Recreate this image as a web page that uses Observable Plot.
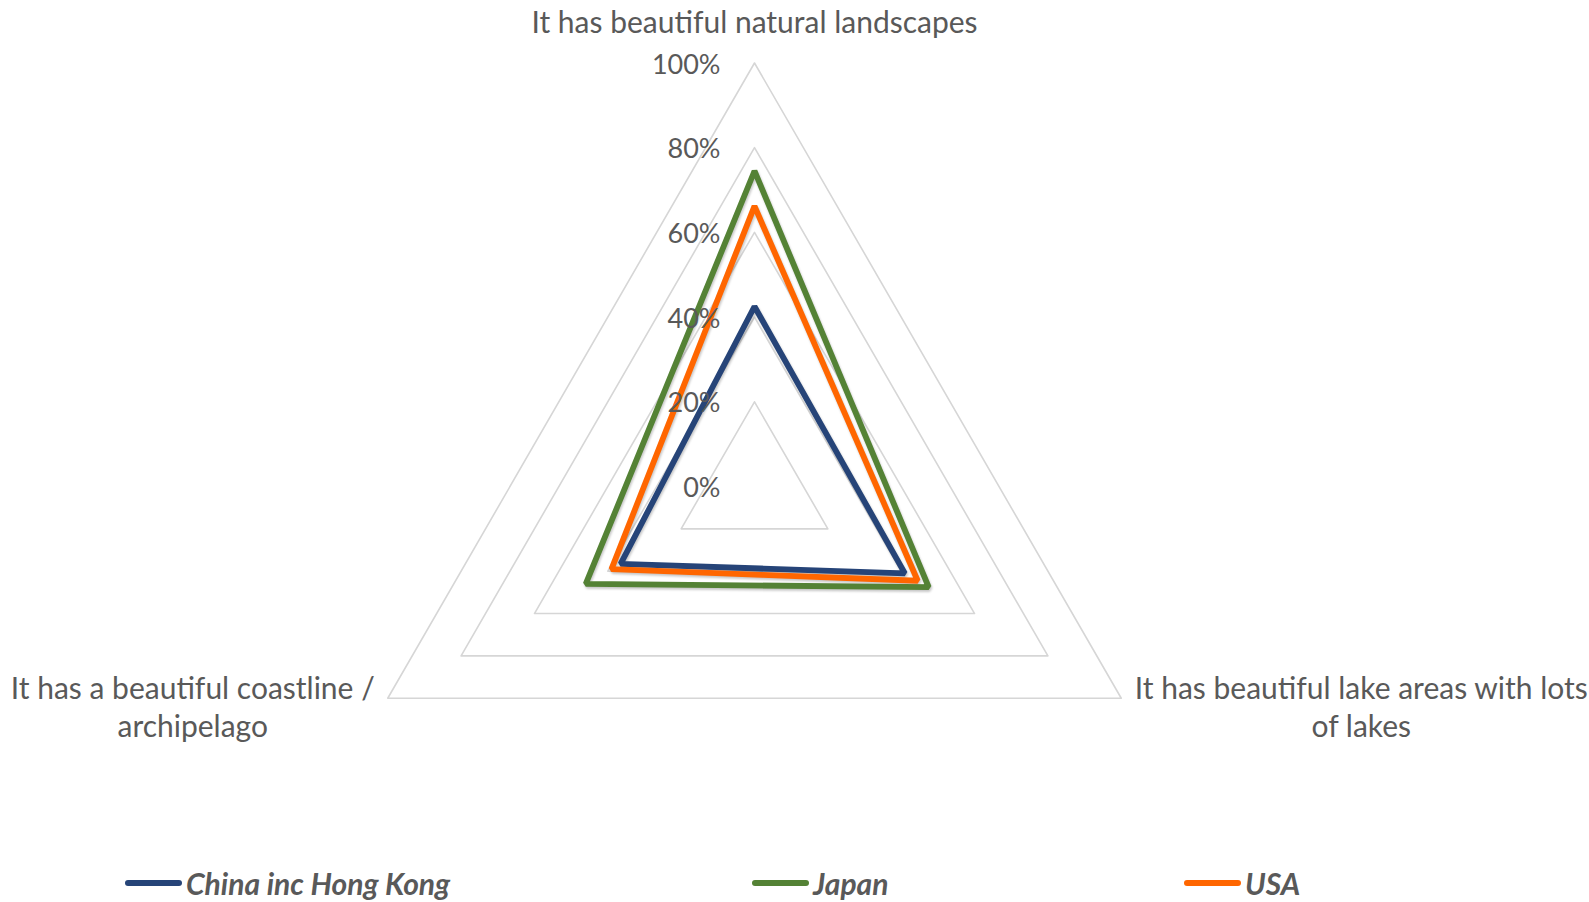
<!DOCTYPE html>
<html>
<head>
<meta charset="utf-8">
<script src="https://cdn.jsdelivr.net/npm/d3@7"></script>
<script src="https://cdn.jsdelivr.net/npm/@observablehq/plot@0.6"></script>
<style>
  html, body { margin: 0; padding: 0; background: #fff; }
  #chart svg { display: block; }
  #legend { position: relative; height: 47px;
            font-family: Lato, "Open Sans", sans-serif; font-size: 30px; font-weight: bold; font-style: italic; color: #595959; }
  .item { position: absolute; top: 10px; display: flex; align-items: center; white-space: nowrap; line-height: 36px; }
  .swatch { display: inline-block; width: 57px; height: 6px; border-radius: 3px; margin-right: 4px; }
</style>
</head>
<body>
<div id="chart"></div>
<div id="legend"></div>
<script>
// ---- data ----
const categories = [
  "It has beautiful natural landscapes",
  "It has beautiful lake areas with lots\nof lakes",
  "It has a beautiful coastline /\narchipelago"
];
const seriesNames = ["China inc Hong Kong", "Japan", "USA"];
const chinaValues = [42.5, 41, 36.5];
const japanValues = [74.5, 47.5, 46];
const usaValues = [66.2, 44.5, 39];
const tickValues = [0, 20, 40, 60, 80, 100];
const tickLabels = ["0%", "20%", "40%", "60%", "80%", "100%"];
const seriesColors = ["#264478", "#548235", "#FF6600"];

// ---- layout ----
const W = 1589, H = 855;
const cx = 754, cy = 486, pxPerUnit = 4.235;
const legendLeft = [125, 752, 1184];
const angle = i => Math.PI / 2 - i * 2 * Math.PI / categories.length;
const px = (r, i) => r * Math.cos(angle(i));
const py = (r, i) => r * Math.sin(angle(i));

const seriesValues = [chinaValues, japanValues, usaValues];
const rows = [];
seriesNames.forEach((s, k) => seriesValues[k].forEach((v, i) => rows.push({series: s, i, value: v})));

const grid = [];
tickValues.filter(t => t > 0).forEach(t => categories.forEach((c, i) => grid.push({ring: t, i})));

const catRows = categories.map((c, i) => ({label: c, i}));
const gray = "#595959";
const font = "Lato, 'Open Sans', sans-serif";

const plot = Plot.plot({
  width: W, height: H,
  marginLeft: 0, marginRight: 0, marginTop: 0, marginBottom: 0,
  style: {fontFamily: font, background: "#fff"},
  x: {domain: [-cx / pxPerUnit, (W - cx) / pxPerUnit], axis: null},
  y: {domain: [-(H - cy) / pxPerUnit, cy / pxPerUnit], axis: null},
  color: {domain: seriesNames, range: seriesColors},
  marks: [
    Plot.line(grid, {x: d => px(d.ring, d.i), y: d => py(d.ring, d.i), z: "ring",
      curve: "linear-closed", stroke: "#d6d6d6", strokeWidth: 1.6}),
    Plot.line(rows, {x: d => px(d.value, d.i), y: d => py(d.value, d.i), z: "series",
      stroke: "series", curve: "linear-closed", strokeWidth: 5.8, strokeLinejoin: "miter"}),
    Plot.text(tickValues, {x: () => 0, y: d => d, text: (d, j) => tickLabels[j],
      textAnchor: "end", lineAnchor: "middle", dx: -34, dy: 2, fontSize: 27, fill: gray}),
    Plot.text(catRows.filter(d => d.i === 0), {x: d => px(100, d.i), y: d => py(100, d.i), text: "label",
      textAnchor: "middle", lineAnchor: "bottom", dy: -30, fontSize: 30, fill: gray}),
    Plot.text(catRows.filter(d => d.i === 1), {x: d => px(100, d.i), y: d => py(100, d.i), text: "label",
      textAnchor: "middle", lineAnchor: "top", dx: 240, dy: -27, lineHeight: 1.28, fontSize: 30, fill: gray}),
    Plot.text(catRows.filter(d => d.i === 2), {x: d => px(100, d.i), y: d => py(100, d.i), text: "label",
      textAnchor: "middle", lineAnchor: "top", dx: -195, dy: -27, lineHeight: 1.28, fontSize: 30, fill: gray})
  ]
});
const lineGroups = plot.querySelectorAll('g[aria-label="line"]');
if (lineGroups[1]) lineGroups[1].style.filter = "drop-shadow(1.5px 2px 1.2px rgba(0,0,0,0.22))";
document.getElementById("chart").appendChild(plot);

const legend = document.getElementById("legend");
seriesNames.forEach((s, k) => {
  const item = document.createElement("div");
  item.className = "item";
  item.style.left = legendLeft[k] + "px";
  const sw = document.createElement("span");
  sw.className = "swatch";
  sw.style.background = seriesColors[k];
  const tx = document.createElement("span");
  tx.textContent = s;
  item.appendChild(sw); item.appendChild(tx);
  legend.appendChild(item);
});
</script>
</body>
</html>
